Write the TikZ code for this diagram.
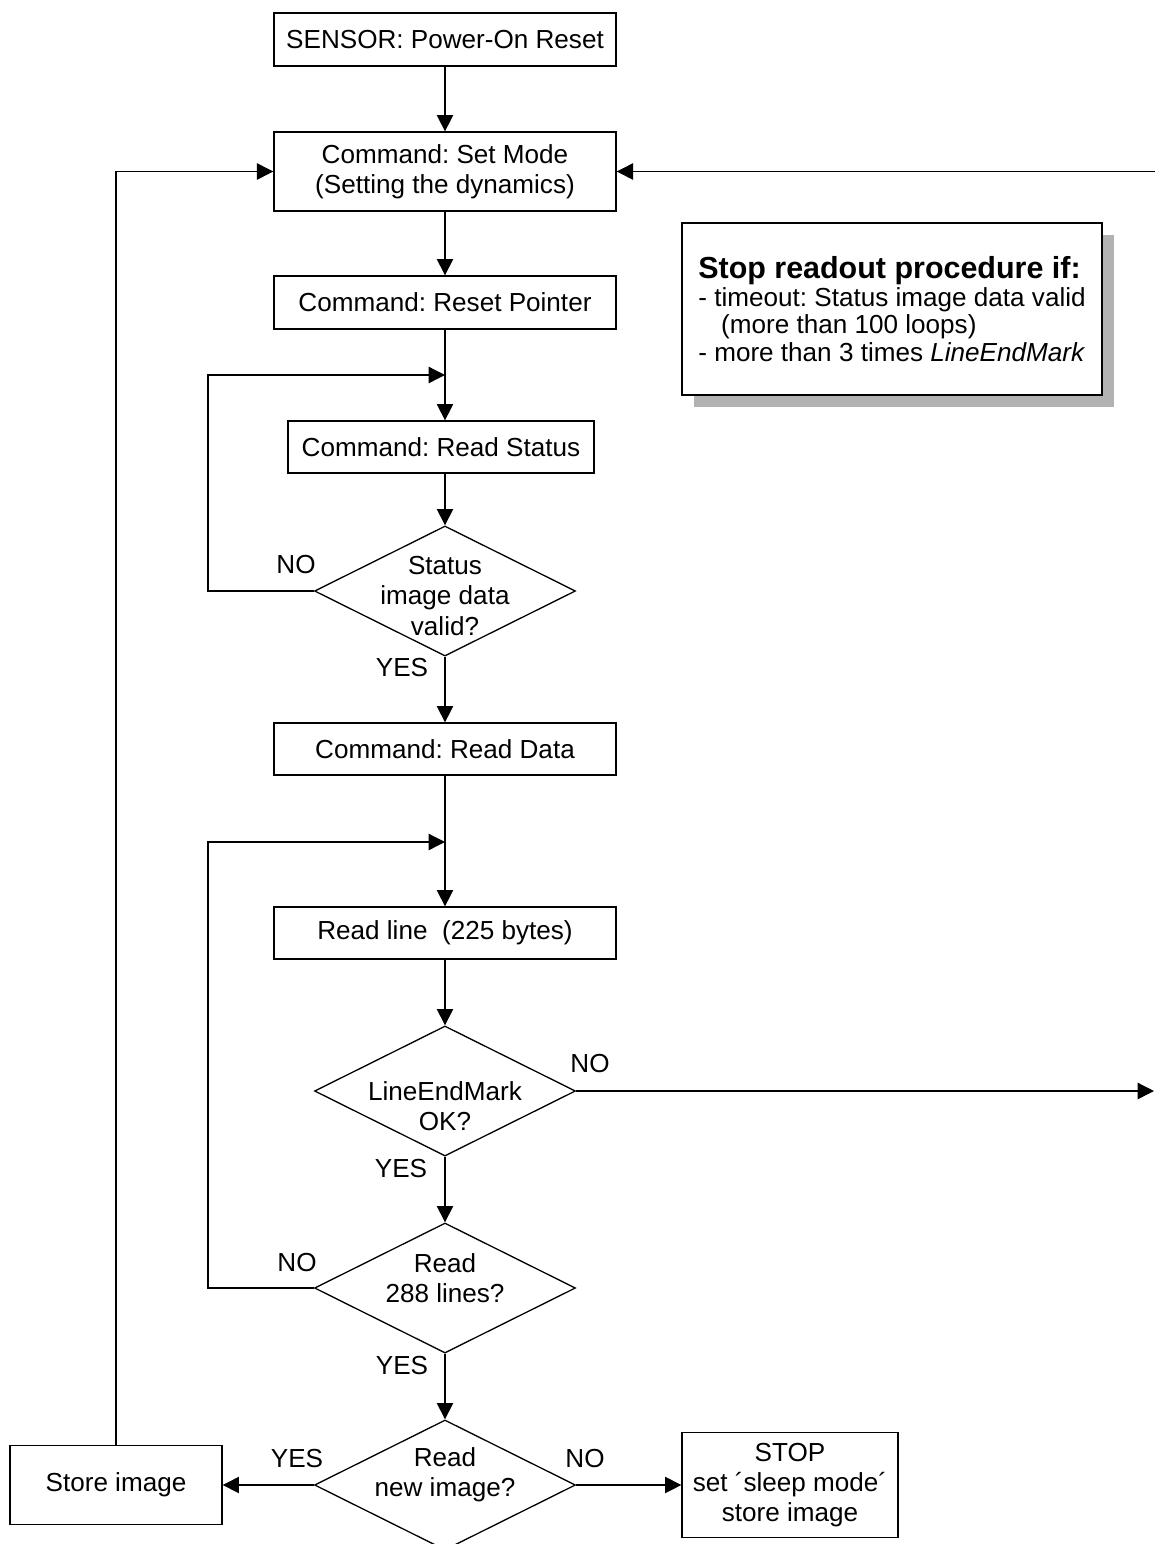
\documentclass[tikz,border=0pt]{standalone}
\usepackage{fontspec}
\setmainfont{Liberation Sans}
\usetikzlibrary{shapes.geometric,arrows.meta,shadows}
\tikzstyle{box}=[draw, line width=0.6pt, inner sep=0pt, minimum width=157.3pt, minimum height=23.9pt, align=center]
\tikzstyle{dec}=[draw, diamond, line width=0.6pt, inner sep=0pt, minimum width=120pt, minimum height=59.8pt]
\tikzstyle{flow}=[line width=0.6pt, -{Triangle[length=7.5pt,width=7.5pt]}]
\tikzstyle{tag}=[inner sep=0pt]
\frenchspacing

\begin{document}
\begin{tikzpicture}[x=0.4598pt, y=-0.4598pt, font=\fontsize{12}{13.8}\selectfont]
\clip (0,0) rectangle (1155,1544);
\node[box, minimum height=24.4pt] (sensor) at (445,39.5) {SENSOR: Power-On Reset};
\node[box, minimum height=36.3pt] (setmode) at (445,171.5) {Command: Set Mode\\(Setting the dynamics)};
\node[box, minimum height=24.4pt] (reset) at (445,302.5) {Command: Reset Pointer};
\node[box, minimum width=140.7pt] (rstat) at (441,447) {Command: Read Status};
\node[dec, label={[align=center,yshift=-2.3pt]center:Status\\image data\\valid?}] (status) at (445,591) {};
\node[box] (rdata) at (445,749) {Command: Read Data};
\node[box] (rline) at (445,933) {Read line\ \ (225 bytes)};
\node[dec, label={[align=center,yshift=-6.9pt]center:LineEndMark\\OK?}] (lem) at (445,1091) {};
\node[dec, label={[align=center,yshift=4.4pt]center:Read\\288 lines?}] (r288) at (445,1288) {};
\node[dec, label={[align=center,yshift=4.8pt]center:Read\\new image?}] (newimg) at (445,1485) {};
\node[box, minimum width=97.5pt, minimum height=36.3pt] (store) at (116,1485) {Store image};
\node[box, minimum width=99.3pt, minimum height=48.3pt] (stop) at (790,1485) {STOP\\set ´sleep mode´\\store image};
\node[draw, line width=1.1pt, fill=white, drop shadow={shadow xshift=5.5pt, shadow yshift=-5.5pt, fill=black!30, opacity=1},
  minimum width=193.1pt, minimum height=79.1pt, align=left, font=\fontsize{12}{12.6}\selectfont] (note) at (892,309)
  {{\fontsize{14}{16}\selectfont\bfseries Stop readout procedure if:}\\
   - timeout: Status image data valid\\
   \hspace*{10.5pt}(more than 100 loops)\\
   - more than 3 times \textit{LineEndMark}};

\node[tag] (no1) at (296,565) {NO};
\node[tag] (yes1) at (402,668) {YES};
\node[tag] (no2) at (590,1063) {NO};
\node[tag] (yes2) at (401,1168) {YES};
\node[tag] (no3) at (297,1262) {NO};
\node[tag] (yes3) at (402,1365) {YES};
\node[tag] (yes4) at (297,1458) {YES};
\node[tag] (no4) at (585,1458) {NO};

\coordinate (j1) at (445,375);
\coordinate (j2) at (445,842);
\coordinate (edgeT) at (1155,171.5);
\coordinate (edgeL) at (1154,1091);

\draw[flow] (sensor) -- (setmode);
\draw[flow] (setmode) -- (reset);
\draw[flow] (reset.south) -- (reset.south |- rstat.north);
\draw[flow] (status.north |- rstat.south) -- (status.north);
\draw[flow] (status.west) -- ++(-106,0) |- (j1);
\draw[flow] (status) -- (rdata);
\draw[flow] (rdata) -- (rline);
\draw[flow] (r288.west) -- ++(-106,0) |- (j2);
\draw[flow] (rline) -- (lem);
\draw[flow] (lem.east) -- (edgeL);
\draw[flow] (lem) -- (r288);
\draw[flow] (r288) -- (newimg);
\draw[flow] (newimg.west) -- (store.east);
\draw[flow] (newimg.east) -- (stop.west);
\draw[flow] (store.north) |- (setmode.west);
\draw[flow] (edgeT) -- (setmode.east);
\end{tikzpicture}
\end{document}
